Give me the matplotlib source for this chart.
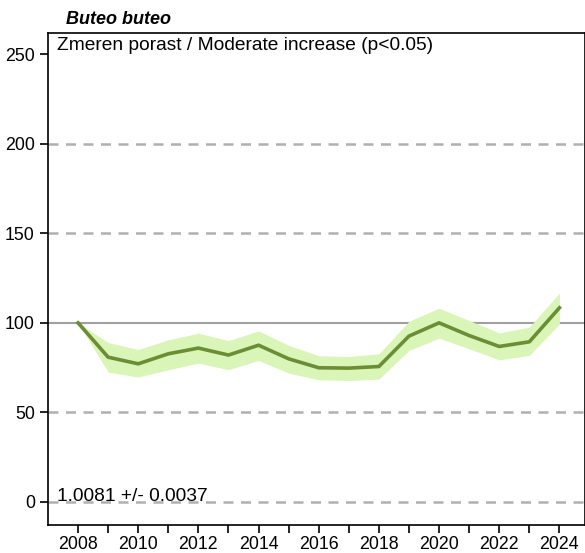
import matplotlib.pyplot as plt

plt.rcParams['font.family'] = ['Liberation Sans', 'DejaVu Sans']

# podatki
years = list(range(2008, 2025))
index = [100, 80.8, 77.1, 82.7, 85.9, 82.0, 87.5, 79.9, 74.9, 74.7, 75.6,
         92.6, 100, 92.9, 86.8, 89.4, 108.4]
upper = [100, 89.0, 85.1, 90.5, 94.2, 90.1, 95.5, 87.4, 81.6, 81.2, 82.7,
         100.9, 108.2, 101.3, 94.4, 97.6, 116.7]
lower = [100, 72.5, 69.7, 73.8, 77.5, 73.8, 79.0, 71.9, 68.2, 67.8, 68.6,
         84.6, 91.4, 85.5, 79.3, 81.8, 99.4]
species = 'Buteo buteo'
trend_text = 'Zmeren porast / Moderate increase (p<0.05)'
slope_text = '1.0081 +/- 0.0037'
grid_dashed = [0, 50, 150, 200]

fig = plt.figure(figsize=(5.85, 5.53), dpi=100)
ax = fig.add_axes([0.082, 0.0506, 0.918, 0.8897])

# mreza
for g in grid_dashed:
    ax.axhline(g, color='#b0b0b0', lw=1.8, ls=(0, (4, 3)), zorder=1)
ax.axhline(100, color='#a0a0a0', lw=1.5, zorder=1)

ax.fill_between(years, lower, upper, color='#d9f5b8', lw=0, zorder=2)
ax.plot(years, index, color='#6b8e35', lw=2.6, zorder=3)

ax.set_xlim(2007, 2024.85)
ax.set_ylim(-13, 262)
ax.set_yticks([0, 50, 100, 150, 200, 250])
ax.set_xticks(years)
ax.set_xticklabels([str(y) if y % 2 == 0 else '' for y in years])
ax.tick_params(direction='out', length=6, width=1.2, labelsize=12.8, colors='black')
ax.tick_params(axis='x', pad=2)
for s in ax.spines.values():
    s.set_linewidth(1.2)

ax.text(0.017, 0.992, trend_text, transform=ax.transAxes, fontsize=13.8,
        va='top', ha='left')
ax.text(0.017, 0.04, slope_text, transform=ax.transAxes, fontsize=13.8,
        va='bottom', ha='left')
fig.text(66 / 585, 1 - 20 / 553, species, fontsize=13, fontweight='bold',
         fontstyle='italic', va='center', ha='left')

fig.savefig('out.png', dpi=100)
